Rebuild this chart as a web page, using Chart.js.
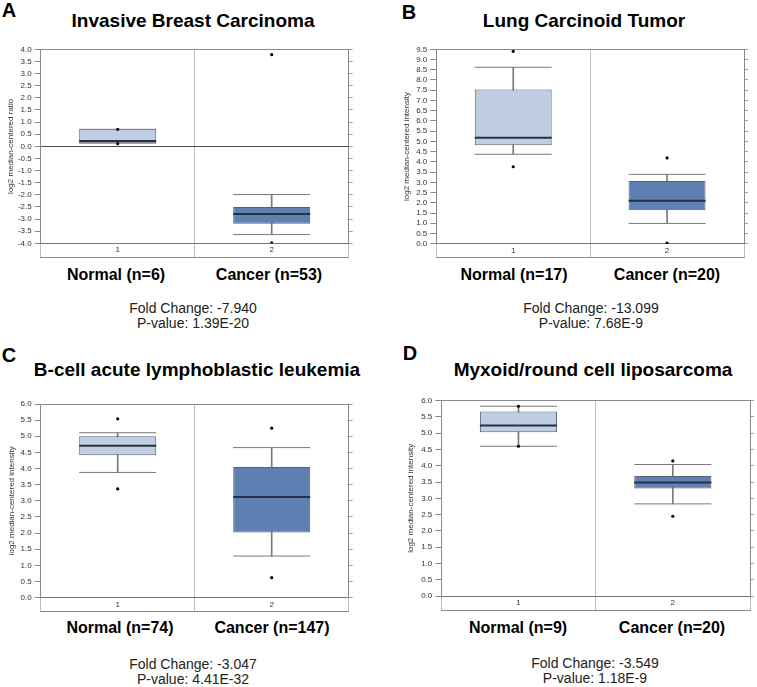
<!DOCTYPE html>
<html>
<head>
  <meta charset="utf-8">
  <title>Expression box plots</title>
  <script src="https://cdn.jsdelivr.net/npm/chart.js"></script>
  <style>
    body {
      margin: 0;
      background: #fff;
      font-family: "Liberation Sans", Arial, sans-serif;
    }
    #page {
      position: relative;
      width: 757px;
      height: 687px;
      overflow: hidden;
    }
    .txt {
      position: absolute;
      white-space: nowrap;
      line-height: 1;
      transform: translate(-50%, -50%);
    }
    .letter { font-weight: bold; font-size: 20px; color: #000; }
    .title { font-weight: bold; font-size: 19px; color: #000; }
    .group { font-weight: bold; font-size: 16px; color: #000; }
    .stat { font-size: 14px; color: #222; }
    canvas { position: absolute; }
  </style>
</head>
<body>
  <div id="page"></div>
  <script>
    // ---- data ----
    const categories = ['1', '2'];
    const panelLetters = ['A', 'B', 'C', 'D'];
    const panelTitles = ['Invasive Breast Carcinoma', 'Lung Carcinoid Tumor',
                         'B-cell acute lymphoblastic leukemia', 'Myxoid/round cell liposarcoma'];
    const yTitles = ['log2 median-centered ratio', 'log2 median-centered intensity',
                     'log2 median-centered intensity', 'log2 median-centered intensity'];
    const yMin = [-4, 0, 0, 0];
    const yMax = [4, 9.5, 6, 6];
    const normalLabels = ['Normal (n=6)', 'Normal (n=17)', 'Normal (n=74)', 'Normal (n=9)'];
    const cancerLabels = ['Cancer (n=53)', 'Cancer (n=20)', 'Cancer (n=147)', 'Cancer (n=20)'];
    const foldChanges = ['-7.940', '-13.099', '-3.047', '-3.549'];
    const pValues = ['1.39E-20', '7.68E-9', '4.41E-32', '1.18E-9'];

    // one entry per panel: [normal, cancer]
    const boxLow    = [[0.13, -3.19], [4.81, 1.63], [4.41, 2.02], [5.03, 3.30]];
    const boxHigh   = [[0.70, -2.50], [7.54, 3.06], [5.00, 4.05], [5.67, 3.69]];
    const medians   = [[0.22, -2.79], [5.18, 2.10], [4.71, 3.12], [5.24, 3.49]];
    const whiskLow  = [[0.13, -3.64], [4.37, 0.99], [3.88, 1.29], [4.60, 2.83]];
    const whiskHigh = [[0.70, -1.99], [8.62, 3.39], [5.11, 4.65], [5.83, 4.04]];
    const outHigh   = [[0.70, 3.78], [9.40, 4.19], [5.54, 5.25], [5.83, 4.15]];
    const outLow    = [[0.11, -3.98], [3.76, 0.03], [3.37, 0.62], [4.60, 2.45]];

    // ---- layout (page pixels) ----
    const frameLeft   = [40.7, 436.3, 40.7, 441.3];
    const frameRight  = [348.7, 744, 348.7, 750];
    const frameTop    = [49.3, 49.3, 404, 400.7];
    const frameBottom = [243.3, 243.7, 597.7, 596];
    const yTitleX     = [11, 407, 12, 411];
    const letterPos = [[9, 10], [409, 12], [9, 355], [410, 353]];
    const titlePos  = [[193, 20], [584, 20], [197, 369], [593, 369]];
    const normalPos = [[116, 275], [514, 275], [120, 628], [518, 628]];
    const cancerPos = [[269, 275], [667, 275], [272, 628], [672, 628]];
    const statPos   = [[193, 308], [591, 308], [193, 664], [595, 663]];

    const boxColors = ['#bfcee3', '#5e80b3'];
    const tickFont = { family: 'Liberation Sans', size: 8 };
    const page = document.getElementById('page');

    function addText(cls, text, pos) {
      const d = document.createElement('div');
      d.className = 'txt ' + cls;
      d.textContent = text;
      d.style.left = pos[0] + 'px';
      d.style.top = pos[1] + 'px';
      page.appendChild(d);
    }

    // half the box width in pixels, for the median and whisker caps
    function halfBox(ctx) {
      const x = ctx.chart.scales.x;
      return x.width / categories.length * 0.5 / 2;
    }

    function makePanel(p) {
      addText('letter', panelLetters[p], letterPos[p]);
      addText('title', panelTitles[p], titlePos[p]);
      addText('group', normalLabels[p], normalPos[p]);
      addText('group', cancerLabels[p], cancerPos[p]);
      addText('stat', 'Fold Change: ' + foldChanges[p], statPos[p]);
      addText('stat', 'P-value: ' + pValues[p], [statPos[p][0], statPos[p][1] + 15]);

      const x0 = Math.max(0, Math.floor(frameLeft[p] - 41));
      const axisW = frameLeft[p] - x0;
      const w = Math.ceil(frameRight[p] - x0 + 10);
      const padR = w - (frameRight[p] - x0) - 5;
      const y0 = Math.floor(frameTop[p] - 10);
      const padT = frameTop[p] - y0;
      const h = Math.ceil(frameBottom[p] - y0 + 15 + 4);
      const padB = h - (frameBottom[p] - y0) - 15;

      const canvas = document.createElement('canvas');
      canvas.width = w;
      canvas.height = h;
      canvas.style.left = x0 + 'px';
      canvas.style.top = y0 + 'px';
      page.appendChild(canvas);

      const lo = yMin[p], hi = yMax[p];

      new Chart(canvas.getContext('2d'), {
        type: 'bar',
        data: {
          labels: categories,
          datasets: [
            {
              // whisker stems
              data: categories.map((c, i) => [whiskLow[p][i], whiskHigh[p][i]]),
              backgroundColor: '#7a7a7a',
              barThickness: 1,
              grouped: false,
              order: 3
            },
            {
              // boxes
              data: categories.map((c, i) => [boxLow[p][i], boxHigh[p][i]]),
              backgroundColor: boxColors,
              borderColor: '#596070',
              borderWidth: 1,
              borderSkipped: false,
              barPercentage: 0.5,
              categoryPercentage: 1,
              grouped: false,
              order: 2
            },
            {
              type: 'line',
              data: whiskHigh[p],
              showLine: false,
              pointStyle: 'line',
              pointRadius: halfBox,
              pointBorderColor: '#7a7a7a',
              pointBorderWidth: 1,
              order: 1
            },
            {
              type: 'line',
              data: whiskLow[p],
              showLine: false,
              pointStyle: 'line',
              pointRadius: halfBox,
              pointBorderColor: '#7a7a7a',
              pointBorderWidth: 1,
              order: 1
            },
            {
              type: 'line',
              data: medians[p],
              showLine: false,
              pointStyle: 'line',
              pointRadius: halfBox,
              pointBorderColor: '#273040',
              pointBorderWidth: 2,
              order: 0
            },
            {
              type: 'line',
              data: outHigh[p],
              showLine: false,
              pointStyle: 'circle',
              pointRadius: 1.6,
              pointBackgroundColor: '#000',
              pointBorderWidth: 0,
              order: 0
            },
            {
              type: 'line',
              data: outLow[p],
              showLine: false,
              pointStyle: 'circle',
              pointRadius: 1.6,
              pointBackgroundColor: '#000',
              pointBorderWidth: 0,
              order: 0
            }
          ]
        },
        options: {
          responsive: false,
          animation: false,
          layout: { padding: { left: 0, top: padT, right: padR, bottom: padB } },
          plugins: { legend: { display: false }, tooltip: { enabled: false } },
          scales: {
            x: {
              grid: { color: '#bdbdbd', tickLength: 14, offset: true },
              border: { display: true, color: '#777' },
              ticks: { padding: -12, font: tickFont, color: '#333' },
              afterFit: s => { s.height = 14; }
            },
            x2: {
              type: 'category',
              position: 'bottom',
              weight: 1,
              grid: { display: false },
              ticks: { display: false },
              border: { display: true, color: '#8a8a8a' },
              afterFit: s => { s.height = 1; }
            },
            y: {
              min: lo,
              max: hi,
              ticks: {
                stepSize: 0.5,
                autoSkip: false,
                padding: 3,
                font: tickFont,
                color: '#333',
                callback: v => v.toFixed(1)
              },
              grid: {
                color: ctx => {
                  if (!ctx.tick) return 'rgba(0,0,0,0)';
                  if (ctx.tick.value === 0) return '#4a4a4a';
                  if (ctx.tick.value === hi) return '#8a8a8a';
                  return 'rgba(0,0,0,0)';
                },
                tickColor: '#8a8a8a',
                tickLength: 6
              },
              border: { display: true, color: '#8a8a8a' },
              title: {
                display: true,
                text: yTitles[p],
                font: tickFont,
                color: '#333',
                padding: { top: yTitleX[p] - x0 - 4.8, bottom: 0 }
              },
              afterFit: s => { s.width = axisW; }
            },
            y2: {
              position: 'right',
              min: lo,
              max: hi,
              ticks: { display: false, stepSize: 0.5, autoSkip: false },
              grid: { drawOnChartArea: false, tickLength: 4, color: '#a0a0a0' },
              border: { display: true, color: '#8a8a8a' },
              afterFit: s => { s.width = 5; }
            }
          }
        }
      });
    }

    for (let p = 0; p < 4; p++) makePanel(p);
  </script>
</body>
</html>
